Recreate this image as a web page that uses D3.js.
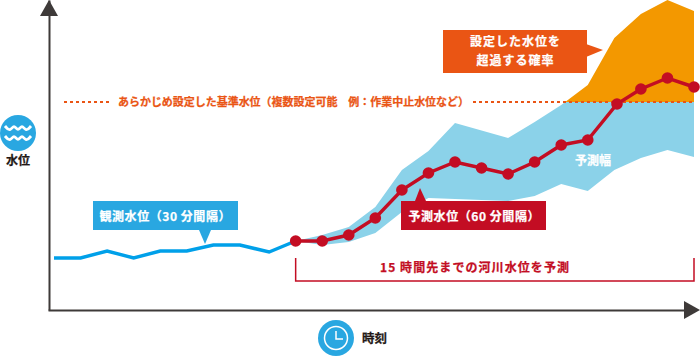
<!DOCTYPE html>
<html>
    <head>
        <meta charset="utf-8">
        <title>河川水位予測</title>
        <script src="https://d3js.org/d3.v7.min.js"></script>
        <style>
            html, body { margin: 0; padding: 0; background: #fff; }
            svg { display: block; }
            text { font-family: "Noto Sans CJK JP", sans-serif; font-weight: 700; stroke: currentColor; stroke-width: 0.25; }
        </style>
    </head>
    <body>
        <svg id="chart" width="700" height="356"></svg>
        <script>
            // hours relative to the start of the forecast, water level in arbitrary units
            const observedHours = [-9.1, -8.1, -7.1, -6.1, -5.1, -4.1, -3.1, -2.1, -1, 0];
            const observedLevels = [52, 52, 59, 52, 59, 59, 65, 65, 58, 69];

            const forecastHours = [0, 1, 2, 3, 4, 5, 6, 7, 8, 9, 10, 11, 12.1, 13, 14, 15];
            const forecastLevels = [69, 69, 75, 92, 120, 137, 148, 142, 136, 148, 165, 170, 206, 221, 232, 223];

            const bandHours = [0, 1, 2, 3, 4, 5, 6, 8, 9, 10, 11, 12, 13, 14, 15];
            const bandUpper = [69, 75, 83, 103, 140, 159, 187, 172, 188, 205, 225, 272, 296, 310, 299];
            const bandLower = [69, 65, 68, 77, 98, 112, 111, 109, 114, 126, 119, 140, 152, 160, 153];

            const thresholdLevel = 208;

            const svg = d3.select("#chart");
            const x = d3.scaleLinear().domain([-9.1, 15]).range([54, 694]);
            const y = d3.scaleLinear().domain([0, 310]).range([310, 0]);

            const ink = "#3e3a39", blue = "#00a0e9", iconBlue = "#29a7e1", red = "#c30d23";
            const paleBlue = "#8bd2e9", amber = "#f39800", orange = "#ea5514";

            // BAND ---------------------------------------------------------------
            const defs = svg.append("defs");
            defs.append("clipPath").attr("id", "above").append("rect")
                .attr("x", 0).attr("y", 0).attr("width", 700).attr("height", y(thresholdLevel));
            defs.append("clipPath").attr("id", "below").append("rect")
                .attr("x", 0).attr("y", y(thresholdLevel)).attr("width", 700).attr("height", 356);

            const band = d3.area()
                .x(d => x(d))
                .y0((d, i) => y(bandLower[i]))
                .y1((d, i) => y(bandUpper[i]));

            svg.append("path").attr("d", band(bandHours)).attr("fill", paleBlue).attr("clip-path", "url(#below)");
            svg.append("path").attr("d", band(bandHours)).attr("fill", amber).attr("clip-path", "url(#above)");

            // AXES ---------------------------------------------------------------
            svg.append("g").attr("transform", "translate(49,0)")
                .call(d3.axisLeft(y).tickValues([]).tickSizeOuter(0))
                .select(".domain").attr("stroke", ink).attr("stroke-width", 2);
            svg.append("g").attr("transform", "translate(0,310)")
                .call(d3.axisBottom(d3.scaleLinear().domain([0, 1]).range([48, 690])).tickValues([]).tickSizeOuter(0))
                .select(".domain").attr("stroke", ink).attr("stroke-width", 2);
            svg.append("path").attr("d", "M49,0L58,16L40,16Z").attr("fill", ink);
            svg.append("path").attr("d", "M700,310L684,301L684,319Z").attr("fill", ink);

            // THRESHOLD ----------------------------------------------------------
            const dashed = (a, b) => svg.append("line")
                .attr("x1", a).attr("x2", b).attr("y1", y(thresholdLevel)).attr("y2", y(thresholdLevel))
                .attr("stroke", orange).attr("stroke-width", 2).attr("stroke-dasharray", "3 3");
            dashed(64, 112);
            dashed(473, 694);
            svg.append("text").attr("x", 118).attr("y", 102).attr("dy", "0.36em")
                .attr("fill", orange).style("color", orange).attr("font-size", 11)
                .attr("textLength", 351).attr("lengthAdjust", "spacing")
                .text("あらかじめ設定した基準水位（複数設定可能　例：作業中止水位など）");

            // LINES --------------------------------------------------------------
            const line = d3.line().x(d => x(d[0])).y(d => y(d[1]));

            svg.append("path").attr("d", line(d3.zip(observedHours, observedLevels)))
                .attr("fill", "none").attr("stroke", blue).attr("stroke-width", 3.5);
            svg.append("path").attr("d", line(d3.zip(forecastHours, forecastLevels)))
                .attr("fill", "none").attr("stroke", red).attr("stroke-width", 3.5);
            svg.selectAll("circle.node")
                .data(d3.zip(forecastHours, forecastLevels))
                .join("circle")
                .attr("class", "node")
                .attr("cx", d => x(d[0]))
                .attr("cy", d => y(d[1]))
                .attr("r", 5.8)
                .attr("fill", red);

            // CALLOUTS -----------------------------------------------------------
            function callout(rect, pointer, color, lines) {
                svg.append("path").attr("d", d3.line()(pointer)).attr("fill", color);
                svg.append("rect").attr("x", rect[0]).attr("y", rect[1])
                    .attr("width", rect[2]).attr("height", rect[3]).attr("fill", color);
                lines.forEach(l => {
                    svg.append("text")
                        .attr("x", l.x).attr("y", l.y).attr("dy", "0.36em")
                        .attr("text-anchor", "middle")
                        .attr("fill", "#fff").style("color", "#fff").attr("font-size", 12)
                        .attr("textLength", l.w).attr("lengthAdjust", "spacing")
                        .text(l.t);
                });
            }

            callout([443, 30, 144, 43], [[586, 44], [603, 50], [586, 57]], orange, [
                {t: "設定した水位を", x: 515, y: 42, w: 90},
                {t: "超過する確率", x: 515, y: 61, w: 77}
            ]);
            callout([93, 201, 145, 29], [[199, 230], [211, 230], [205, 244]], iconBlue, [
                {t: "観測水位（30 分間隔）", x: 165, y: 217, w: 131}
            ]);
            callout([401, 201, 145, 29], [[415, 201], [426, 201], [420, 188]], red, [
                {t: "予測水位（60 分間隔）", x: 474, y: 217, w: 131}
            ]);

            svg.append("text").attr("x", 575).attr("y", 161).attr("dy", "0.36em")
                .attr("fill", "#fff").style("color", "#fff").attr("font-size", 12).text("予測幅");

            // FORECAST RANGE -----------------------------------------------------
            svg.append("path").attr("d", "M" + x(0) + ",258V281H" + x(15) + "V258")
                .attr("fill", "none").attr("stroke", red).attr("stroke-width", 1.5);
            svg.append("text").attr("x", 380).attr("y", 268).attr("dy", "0.36em")
                .attr("fill", red).style("color", red).attr("font-size", 12)
                .attr("textLength", 189).attr("lengthAdjust", "spacing")
                .text("15 時間先までの河川水位を予測");

            // ICONS --------------------------------------------------------------
            const waterIcon = svg.append("g").attr("transform", "translate(18,133)");
            waterIcon.append("circle").attr("r", 18).attr("fill", iconBlue);
            const wave = d3.line().curve(d3.curveBasis);
            [-5, 5].forEach(dy => {
                waterIcon.append("path")
                    .attr("d", wave([[-13, dy - 2], [-8, dy + 4], [-4, dy - 4], [0, dy + 4], [4, dy - 4], [8, dy + 4], [13, dy - 2]]))
                    .attr("fill", "none").attr("stroke", "#fff").attr("stroke-width", 2.8);
            });
            svg.append("text").attr("x", 18).attr("y", 161).attr("dy", "0.36em")
                .attr("text-anchor", "middle").attr("fill", "#231815").style("color", "#231815").attr("font-size", 12).text("水位");

            const clockIcon = svg.append("g").attr("transform", "translate(336,338)");
            clockIcon.append("circle").attr("r", 18).attr("fill", iconBlue);
            clockIcon.append("circle").attr("r", 11.5).attr("fill", "none").attr("stroke", "#fff").attr("stroke-width", 1.5);
            clockIcon.append("path").attr("d", "M0,-7V1H7").attr("fill", "none").attr("stroke", "#fff").attr("stroke-width", 1.5);
            svg.append("text").attr("x", 362).attr("y", 338).attr("dy", "0.36em")
                .attr("fill", "#231815").style("color", "#231815").attr("font-size", 12.5).text("時刻");
        </script>
    </body>
</html>
